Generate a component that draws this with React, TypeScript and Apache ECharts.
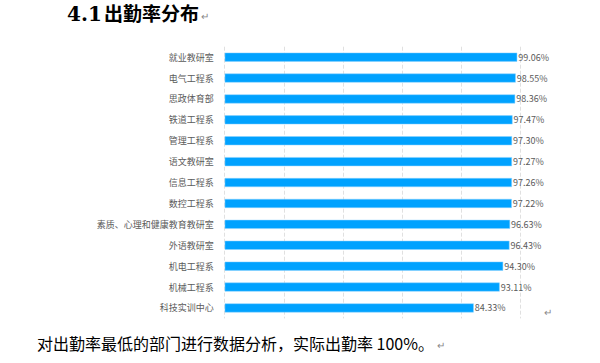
import React, { useEffect, useRef } from "react";
import * as echarts from "echarts";

const categories: string[] = [
  "就业教研室",
  "电气工程系",
  "思政体育部",
  "铁道工程系",
  "管理工程系",
  "语文教研室",
  "信息工程系",
  "数控工程系",
  "素质、心理和健康教育教研室",
  "外语教研室",
  "机电工程系",
  "机械工程系",
  "科技实训中心",
];

const attendance: number[] = [
  99.06, 98.55, 98.36, 97.47, 97.3, 97.27, 97.26, 97.22, 96.63, 96.43, 94.3,
  93.11, 84.33,
];

const headingNumber = "4.1";
const headingText = "出勤率分布";
const bodyText = "对出勤率最低的部门进行数据分析，实际出勤率 100%。";
const returnMark = "↵";

export default function App() {
  const ref = useRef<HTMLDivElement>(null);

  useEffect(() => {
    if (!ref.current) return;
    const chart = echarts.init(ref.current, undefined, { renderer: "svg" });
    const font = '"Noto Sans CJK SC", "Noto Sans", sans-serif';
    chart.setOption({
      animation: false,
      backgroundColor: "#ffffff",
      grid: { left: 224.7, right: 80, top: 46.7, bottom: 44.6, containLabel: false },
      xAxis: {
        type: "value",
        min: 0,
        max: 100,
        interval: 20,
        axisLabel: { show: false },
        axisLine: { show: false },
        axisTick: { show: false },
        splitLine: { show: true, lineStyle: { type: "dashed", color: "#e0e0e0", width: 1 } },
      },
      yAxis: {
        type: "category",
        data: categories,
        inverse: true,
        axisLine: { show: false },
        axisTick: { show: false },
        axisLabel: { fontSize: 9, color: "#5a5a5a", margin: 11, fontFamily: font },
      },
      series: [
        {
          type: "bar",
          data: attendance,
          barWidth: 9,
          itemStyle: { color: "#00A2FF", borderColor: "#8dd3ff", borderWidth: 0.5 },
          label: {
            show: true,
            position: "right",
            distance: 1,
            fontSize: 9,
            color: "#5a5a5a",
            fontFamily: font,
            formatter: (p: any) => Number(p.value).toFixed(2) + "%",
          },
        },
      ],
      graphic: [
        {
          type: "text",
          left: 67,
          top: 4,
          style: {
            text: headingNumber,
            fontSize: 20,
            fontWeight: "bold",
            fill: "#000000",
            fontFamily: '"DejaVu Serif", "Liberation Serif", serif',
          },
        },
        {
          type: "text",
          left: 104,
          top: 3,
          style: {
            text: headingText,
            fontSize: 19,
            fontWeight: "bold",
            fill: "#000000",
            fontFamily: '"Noto Sans CJK SC", serif',
          },
        },
        {
          type: "text",
          left: 201,
          top: 10,
          style: { text: returnMark, fontSize: 10, fill: "#888888", fontFamily: font },
        },
        {
          type: "text",
          left: 544,
          top: 306,
          style: { text: returnMark, fontSize: 10, fill: "#888888", fontFamily: font },
        },
        {
          type: "text",
          left: 37,
          top: 335,
          style: {
            text: bodyText,
            fontSize: 16,
            fill: "#000000",
            fontFamily: '"Noto Sans CJK SC", serif',
          },
        },
        {
          type: "text",
          left: 437,
          top: 339,
          style: { text: returnMark, fontSize: 10, fill: "#888888", fontFamily: font },
        },
      ],
    });
    return () => chart.dispose();
  }, []);

  return (
    <div
      ref={ref}
      style={{ position: "absolute", left: 0, top: 0, width: 600, height: 363 }}
    />
  );
}
